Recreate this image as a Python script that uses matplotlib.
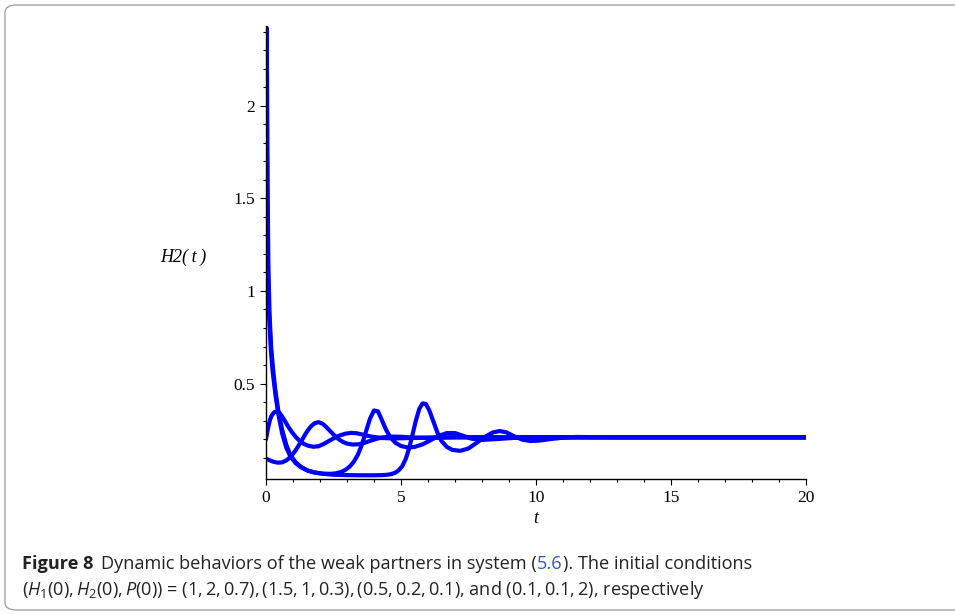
import numpy as np
import matplotlib
matplotlib.use("Agg")
import matplotlib.pyplot as plt
from matplotlib.patches import FancyBboxPatch

# H2(t), one curve per initial condition
# (1, 2, 0.7): late recovery, peak near t=5.8
tA = [0, 0.01, 0.025, 0.04, 0.06, 0.09, 0.13, 0.19, 0.26, 0.35, 0.45, 0.6, 0.75, 0.9,
      1.1, 1.3, 1.55, 1.8, 2.1, 2.5, 3.0, 3.5, 4.0, 4.3, 4.5, 4.65, 4.8, 4.92, 5.05,
      5.18, 5.3, 5.42, 5.55, 5.68, 5.8, 5.92, 6.05, 6.2, 6.35, 6.5, 6.7, 6.9, 7.2, 7.5,
      7.8, 8.1, 8.4, 8.65, 8.9, 9.2, 9.5, 9.8, 10.1, 10.5, 11.0, 11.5, 12, 13, 20]
hA = [2.0, 2.3, 2.42, 2.1, 1.55, 1.12, 0.88, 0.7, 0.58, 0.46, 0.36, 0.25, 0.17, 0.115,
      0.075, 0.05, 0.03, 0.02, 0.013, 0.008, 0.006, 0.005, 0.005, 0.006, 0.008, 0.012,
      0.02, 0.033, 0.055, 0.095, 0.15, 0.22, 0.3, 0.365, 0.393, 0.39, 0.355, 0.295,
      0.235, 0.19, 0.158, 0.142, 0.137, 0.15, 0.18, 0.212, 0.236, 0.244, 0.237, 0.215,
      0.197, 0.19, 0.192, 0.2, 0.208, 0.212, 0.211, 0.21, 0.21]

# (1.5, 1, 0.3): recovery with peak near t=4
tD = [0, 0.015, 0.03, 0.05, 0.08, 0.12, 0.18, 0.25, 0.35, 0.45, 0.6, 0.75, 0.9, 1.1,
      1.3, 1.55, 1.8, 2.1, 2.4, 2.6, 2.8, 2.95, 3.1, 3.25, 3.4, 3.55, 3.7, 3.85, 4.0,
      4.15, 4.3, 4.45, 4.6, 4.8, 5.0, 5.25, 5.5, 5.8, 6.1, 6.4, 6.7, 7.0, 7.3, 7.6, 8.0,
      8.5, 9.2, 10, 20]
hD = [1.0, 2.1, 1.9, 1.45, 1.05, 0.85, 0.68, 0.56, 0.44, 0.34, 0.23, 0.155, 0.108, 0.07,
      0.048, 0.03, 0.02, 0.014, 0.013, 0.016, 0.024, 0.035, 0.052, 0.078, 0.115, 0.17,
      0.24, 0.31, 0.355, 0.35, 0.3, 0.25, 0.21, 0.18, 0.163, 0.155, 0.158, 0.172, 0.195,
      0.218, 0.233, 0.233, 0.218, 0.203, 0.196, 0.2, 0.207, 0.21, 0.21]

# (0.5, 0.2, 0.1)
tB = [0, 0.05, 0.1, 0.15, 0.2, 0.3, 0.4, 0.5, 0.6, 0.7, 0.8, 0.95, 1.1, 1.25, 1.4,
      1.55, 1.75, 1.95, 2.15, 2.35, 2.55, 2.75, 2.95, 3.15, 3.35, 3.6, 3.9, 4.3, 4.8,
      5.5, 6.5, 20]
hB = [0.2, 0.24, 0.275, 0.305, 0.325, 0.345, 0.35, 0.342, 0.322, 0.298, 0.273, 0.24,
      0.212, 0.19, 0.175, 0.165, 0.159, 0.162, 0.175, 0.192, 0.208, 0.221, 0.23, 0.234,
      0.232, 0.224, 0.214, 0.206, 0.204, 0.207, 0.21, 0.21]

# (0.1, 0.1, 2)
tC = [0, 0.15, 0.3, 0.45, 0.6, 0.75, 0.9, 1.05, 1.2, 1.35, 1.5, 1.65, 1.8, 1.95, 2.1,
      2.25, 2.4, 2.55, 2.7, 2.85, 3.0, 3.2, 3.4, 3.6, 3.8, 4.05, 4.3, 4.6, 5.0, 5.5, 6.2,
      7, 20]
hC = [0.095, 0.085, 0.077, 0.073, 0.075, 0.085, 0.103, 0.13, 0.163, 0.2, 0.237, 0.267,
      0.286, 0.292, 0.283, 0.263, 0.24, 0.218, 0.199, 0.185, 0.176, 0.171, 0.172, 0.178,
      0.188, 0.2, 0.209, 0.214, 0.213, 0.208, 0.207, 0.21, 0.21]

xticks = [0, 5, 10, 15, 20]
yticks = [0.5, 1, 1.5, 2]
ytick_labels = ["0.5", "1", "1.5", "2"]

fig = plt.figure(figsize=(9.55, 6.15), dpi=100)

# rounded frame around figure + caption
frame = FancyBboxPatch((5 / 955, 5 / 615), 1.1, 1 - 10 / 615,
                       boxstyle="round,pad=0,rounding_size=0.012",
                       transform=fig.transFigure, fill=False,
                       edgecolor="#9a9a9a", linewidth=0.9, clip_on=False)
fig.patches.append(frame)

ax = fig.add_axes([266 / 955, 136 / 615, 540 / 955, 453 / 615])
for t, h in [(tB, hB), (tC, hC), (tD, hD), (tA, hA)]:
    ax.plot(t, h, color="#0000ff", lw=3, solid_joinstyle="round", solid_capstyle="round")

ax.set_xlim(0, 20)
ax.set_ylim(-0.015, 2.43)
ax.spines["top"].set_visible(False)
ax.spines["right"].set_visible(False)
ax.spines["left"].set_linewidth(1.0)
ax.spines["bottom"].set_linewidth(1.0)
ax.set_xticks(xticks)
ax.set_xticks(np.arange(0, 21, 1), minor=True)
ax.set_yticks(yticks)
ax.set_yticklabels(ytick_labels)
ax.set_yticks(np.arange(0.1, 2.45, 0.1), minor=True)
ax.tick_params(which="major", direction="out", length=4, width=0.8, labelsize=12.5, pad=4)
ax.tick_params(which="minor", direction="out", length=2, width=0.8)
for lab in ax.get_xticklabels() + ax.get_yticklabels():
    lab.set_family("Liberation Serif")

ax.set_xlabel("t", fontfamily="Liberation Serif", style="italic", fontsize=13)
ax.xaxis.set_label_coords(0.5, -0.069)
ax.set_ylabel("H2(\u2009t\u2009)", fontfamily="Liberation Serif", style="italic",
              fontsize=13, rotation=0, va="center", ha="center")
ax.yaxis.set_label_coords(-0.154, 0.49)

# caption
plt.rcParams["mathtext.fontset"] = "custom"
plt.rcParams["mathtext.rm"] = "Open Sans"
plt.rcParams["mathtext.it"] = "Open Sans:italic"
cap = dict(fontfamily="Open Sans", fontsize=13.1, va="baseline", color="#222222")
y1 = 1 - 569 / 615
y2 = 1 - 595 / 615
fig.canvas.draw()
r = fig.canvas.get_renderer()
inv = fig.transFigure.inverted()


def put(x, y, s, **kw):
    opts = dict(cap)
    opts.update(kw)
    txt = fig.text(x, y, s, **opts)
    bb = txt.get_window_extent(renderer=r)
    return inv.transform((bb.x1, bb.y0))[0]


x = put(22 / 955, y1, "Figure 8", fontweight="bold")
x = put(x + 8 / 955, y1, "Dynamic behaviors of the weak partners in system (")
x = put(x, y1, "5.6", color="#3355cc")
put(x, y1, "). The initial conditions")
put(22 / 955, y2, "$(H_1(0),H_2(0),P(0))$ = (1,\u20092,\u20090.7),\u2009(1.5,\u20091,\u20090.3),"
    "\u2009(0.5,\u20090.2,\u20090.1), and (0.1,\u20090.1,\u20092), respectively")

fig.savefig("out.png", dpi=100)
